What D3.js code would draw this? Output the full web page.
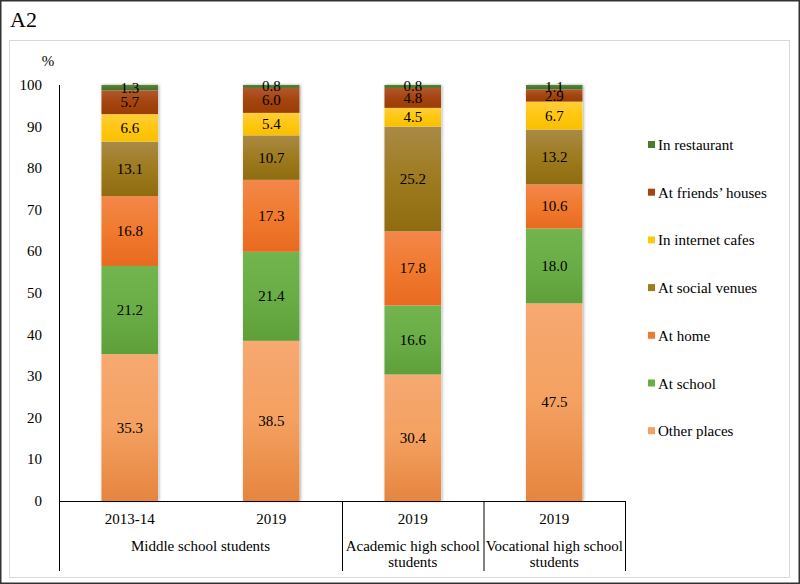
<!DOCTYPE html>
<html>
<head>
<meta charset="utf-8">
<script src="https://cdn.jsdelivr.net/npm/d3@7"></script>
<style>
body { margin: 0; background: #fff; }
</style>
</head>
<body>
<svg id="chart" width="800" height="584"></svg>
<script>
// bars: year label + group
var bars = ["2013-14", "2019", "2019", "2019"];
var groups = [
  {name: ["Middle school students"], from: 0, to: 1},
  {name: ["Academic high school", "students"], from: 2, to: 2},
  {name: ["Vocational high school", "students"], from: 3, to: 3}
];
var seriesNames = ["Other places", "At school", "At home", "At social venues", "In internet cafes", "At friends\u2019 houses", "In restaurant"];
var otherPlaces = [35.3, 38.5, 30.4, 47.5];
var atSchool = [21.2, 21.4, 16.6, 18.0];
var atHome = [16.8, 17.3, 17.8, 10.6];
var socialVenues = [13.1, 10.7, 25.2, 13.2];
var internetCafes = [6.6, 5.4, 4.5, 6.7];
var friendsHouses = [5.7, 6.0, 4.8, 2.9];
var restaurant = [1.3, 0.8, 0.8, 1.1];
var yTicks = [0, 10, 20, 30, 40, 50, 60, 70, 80, 90, 100];

var seriesValues = [otherPlaces, atSchool, atHome, socialVenues, internetCafes, friendsHouses, restaurant];
var colors = ["#f4a060", "#6aad46", "#f07a2e", "#9e7b1e", "#ffc710", "#a4440f", "#4b7a2c"];
var lights = ["#f6a971", "#72b44e", "#f3874a", "#a98a47", "#ffcd3a", "#b0582c", "#5a843a"];
var darks = ["#e5853f", "#5e9f3a", "#e86a20", "#8f6c10", "#f7c000", "#9a3d06", "#466f26"];

var svg = d3.select("#chart");

// frames
svg.append("rect").attr("x", 0.75).attr("y", 0.75).attr("width", 798.5).attr("height", 582.5)
  .attr("fill", "none").attr("stroke", "#333").attr("stroke-width", 1.5);
svg.append("rect").attr("x", 9.5).attr("y", 40.5).attr("width", 780).attr("height", 537)
  .attr("fill", "none").attr("stroke", "#d9d9d9").attr("stroke-width", 1);
svg.append("text").attr("x", 10).attr("y", 27).attr("font-size", 22).text("A2");

var x0 = 59, x1 = 625, yBottom = 501, yTop = 85, axisEnd = 571;
var x = d3.scaleBand().domain(d3.range(bars.length)).range([x0, x1]).paddingInner(0.6).paddingOuter(0.3);
var y = d3.scaleLinear().domain([0, 100]).range([yBottom, yTop]);

var defs = svg.append("defs");
colors.forEach(function (c, i) {
  var g = defs.append("linearGradient").attr("id", "grad" + i).attr("x1", 0).attr("y1", 0).attr("x2", 0).attr("y2", 1);
  g.append("stop").attr("offset", "0%").attr("stop-color", lights[i]);
  g.append("stop").attr("offset", "50%").attr("stop-color", c);
  g.append("stop").attr("offset", "100%").attr("stop-color", darks[i]);
});
var filt = defs.append("filter").attr("id", "shadow").attr("x", "-20%").attr("y", "-5%").attr("width", "140%").attr("height", "110%");
filt.append("feDropShadow").attr("dx", 1).attr("dy", 0).attr("stdDeviation", 1.5).attr("flood-color", "#000").attr("flood-opacity", 0.35);

// stack
var rows = bars.map(function (b, i) {
  var r = {i: i};
  seriesValues.forEach(function (s, k) { r[k] = s[i]; });
  return r;
});
var stack = d3.stack().keys(d3.range(seriesValues.length))(rows);

var barG = svg.append("g");
barG.selectAll("rect.shadow").data(d3.range(bars.length)).join("rect")
  .attr("x", function (i) { return x(i); })
  .attr("y", y(100))
  .attr("width", x.bandwidth())
  .attr("height", y(0) - y(100))
  .attr("fill", "#fff")
  .attr("filter", "url(#shadow)");

var layer = barG.selectAll("g.layer").data(stack).join("g").attr("class", "layer");
layer.selectAll("rect").data(function (d) { return d.map(function (p) { return {p: p, k: d.key}; }); }).join("rect")
  .attr("x", function (d) { return x(d.p.data.i); })
  .attr("y", function (d) { return y(Math.min(d.p[1], 100)); })
  .attr("width", x.bandwidth())
  .attr("height", function (d) { return y(d.p[0]) - y(Math.min(d.p[1], 100)); })
  .attr("fill", function (d) { return "url(#grad" + d.k + ")"; });

layer.selectAll("text").data(function (d) { return d.map(function (p) { return {p: p, k: d.key}; }); }).join("text")
  .attr("x", function (d) { return x(d.p.data.i) + x.bandwidth() / 2; })
  .attr("y", function (d) { return y((d.p[0] + Math.min(d.p[1], 100)) / 2) + 5; })
  .attr("text-anchor", "middle")
  .attr("font-size", 15)
  .text(function (d) { return (d.p[1] - d.p[0]).toFixed(1); });

// y axis
svg.append("line").attr("x1", x0 + 0.5).attr("x2", x0 + 0.5).attr("y1", yTop).attr("y2", axisEnd)
  .attr("stroke", "#000").attr("stroke-width", 1);
svg.selectAll("text.ytick").data(yTicks).join("text").attr("class", "ytick")
  .attr("x", 42).attr("y", function (d) { return y(d) + 5; })
  .attr("text-anchor", "end").attr("font-size", 15)
  .text(function (d) { return d; });
svg.append("text").attr("x", 48).attr("y", 66).attr("text-anchor", "middle").attr("font-size", 15).text("%");

// x axis
svg.append("line").attr("x1", x0).attr("x2", x1 + 0.5).attr("y1", yBottom + 0.5).attr("y2", yBottom + 0.5)
  .attr("stroke", "#000").attr("stroke-width", 1);
var bounds = d3.range(bars.length + 1).map(function (i) { return x0 + (x1 - x0) * i / bars.length; });
groups.forEach(function (g) {
  var r = bounds[g.to + 1];
  svg.append("line").attr("x1", r + 0.5).attr("x2", r + 0.5).attr("y1", yBottom).attr("y2", axisEnd)
    .attr("stroke", "#000").attr("stroke-width", 1);
  var cx = (bounds[g.from] + bounds[g.to + 1]) / 2;
  g.name.forEach(function (line, j) {
    svg.append("text").attr("x", cx).attr("y", 551 + j * 16).attr("text-anchor", "middle")
      .attr("font-size", 15).text(line);
  });
});
svg.selectAll("text.xtick").data(bars).join("text").attr("class", "xtick")
  .attr("x", function (d, i) { return x(i) + x.bandwidth() / 2; })
  .attr("y", 524).attr("text-anchor", "middle").attr("font-size", 15)
  .text(function (d) { return d; });

// legend (top entry = last series)
var legendOrder = d3.range(seriesNames.length).reverse();
var leg = svg.selectAll("g.leg").data(legendOrder).join("g").attr("class", "leg")
  .attr("transform", function (d, j) { return "translate(648," + (145 + j * 47.7) + ")"; });
leg.append("rect").attr("x", 0).attr("y", -4).attr("width", 7).attr("height", 7)
  .attr("fill", function (k) { return colors[k]; });
leg.append("text").attr("x", 10).attr("y", 5).attr("font-size", 15)
  .text(function (k) { return seriesNames[k]; });

svg.selectAll("text").style("font-family", "Liberation Serif").attr("fill", "#000");
</script>
</body>
</html>
